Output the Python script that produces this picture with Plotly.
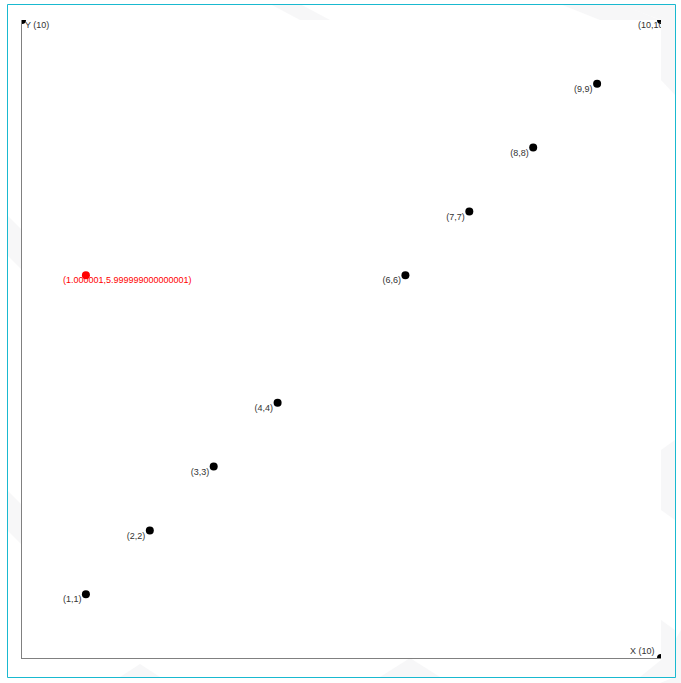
import plotly.graph_objects as go

# Data
xs = [1, 2, 3, 4, 6, 7, 8, 9, 10]
ys = [1, 2, 3, 4, 6, 7, 8, 9, 10]
labels = ["(1,1)", "(2,2)", "(3,3)", "(4,4)", "(6,6)", "(7,7)", "(8,8)", "(9,9)", "(10,10)"]
red_x = [1.000001]
red_y = [5.999999000000001]
red_labels = ["(1.000001,5.999999000000001)"]
axis_pts_x = [0, 10]
axis_pts_y = [10, 0]
x_max = 10
y_max = 10

W, H = 681, 683
L, R, T, B = 22, 20, 20, 25
pw, ph = W - L - R, H - T - B
ux = x_max / pw   # data units per px
uy = y_max / ph

def px(x):
    return (x - L) / pw

def py(y):
    return (H - B - y) / ph

LABEL_DX = -23 * ux
LABEL_DY = -6 * uy
FONT = "Liberation Sans, Arial"

fig = go.Figure()

# Faint background decorations (paper area)
bg_paths = [
    [(270, 4), (300, 4), (330, 20), (300, 20)],
    [(560, 4), (620, 4), (660, 20), (600, 20)],
    [(620, 4), (675, 4), (675, 95), (661, 80), (661, 20)],
    [(7, 215), (22, 230), (22, 270), (7, 255)],
    [(661, 450), (675, 440), (675, 520), (661, 510)],
    [(661, 620), (675, 630), (675, 677), (640, 677), (661, 660)],
    [(380, 677), (410, 658), (440, 677)],
    [(120, 677), (140, 664), (160, 677)],
    [(7, 490), (22, 505), (22, 545), (7, 530)],
    [(675, 640), (681, 630), (681, 683), (660, 683), (675, 677)],
]
for poly in bg_paths:
    d = "M " + " L ".join(f"{px(a):.5f},{py(b):.5f}" for a, b in poly) + " Z"
    fig.add_shape(type="path", path=d, xref="paper", yref="paper",
                  fillcolor="rgba(225,225,228,0.25)", line=dict(width=0), layer="below")

# Cyan outer border
fig.add_shape(type="rect", xref="paper", yref="paper",
              x0=px(7.5), x1=px(675.5), y0=py(677.5), y1=py(4.5),
              line=dict(color="#19b9d0", width=1), fillcolor="rgba(0,0,0,0)", layer="below")

# Axis-end points (clipped)
fig.add_trace(go.Scatter(x=axis_pts_x, y=axis_pts_y, mode="markers",
                         marker=dict(color="black", size=8), cliponaxis=True,
                         hoverinfo="skip", showlegend=False))

# Black points
fig.add_trace(go.Scatter(x=xs, y=ys, mode="markers",
                         marker=dict(color="black", size=8), cliponaxis=True,
                         showlegend=False))
# Black labels
fig.add_trace(go.Scatter(x=[v + LABEL_DX for v in xs], y=[v + LABEL_DY for v in ys],
                         mode="text", text=labels, textposition="middle right",
                         textfont=dict(family=FONT, size=9, color="#333333"),
                         cliponaxis=True, hoverinfo="skip", showlegend=False))

# Red point
fig.add_trace(go.Scatter(x=red_x, y=red_y, mode="markers",
                         marker=dict(color="#ff0000", size=8), cliponaxis=True,
                         showlegend=False))
fig.add_trace(go.Scatter(x=[v + LABEL_DX for v in red_x], y=[v + LABEL_DY for v in red_y],
                         mode="text", text=red_labels, textposition="middle right",
                         textfont=dict(family=FONT, size=9, color="#ff0000"),
                         cliponaxis=True, hoverinfo="skip", showlegend=False))

# Axis labels
fig.add_annotation(x=0, y=y_max, xref="x", yref="y", text="Y (10)", showarrow=False,
                   xanchor="left", yanchor="middle", xshift=1, yshift=-5,
                   font=dict(family=FONT, size=9, color="#333333"))
fig.add_annotation(x=x_max, y=0, xref="x", yref="y", text="X (10)", showarrow=False,
                   xanchor="right", yanchor="middle", xshift=-4, yshift=7,
                   font=dict(family=FONT, size=9, color="#333333"))

fig.update_xaxes(range=[0, x_max], showgrid=False, zeroline=False, showticklabels=False,
                 ticks="", showline=True, linecolor="#808080", linewidth=1, mirror=False,
                 fixedrange=True)
fig.update_yaxes(range=[0, y_max], showgrid=False, zeroline=False, showticklabels=False,
                 ticks="", showline=True, linecolor="#808080", linewidth=1, mirror=False,
                 fixedrange=True)

fig.update_layout(width=W, height=H, margin=dict(l=L, r=R, t=T, b=B),
                  paper_bgcolor="white", plot_bgcolor="white", showlegend=False)

fig.write_html("out.html", config={"displayModeBar": False})
